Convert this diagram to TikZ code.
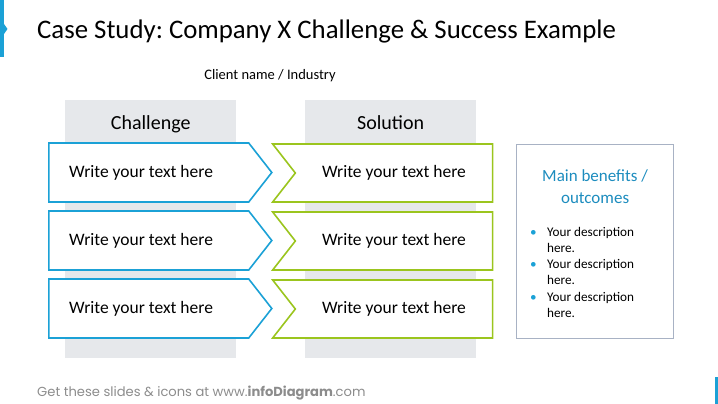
\documentclass[tikz,border=0pt]{standalone}
\usepackage{fontspec}
\setmainfont{Carlito}
\newfontfamily\footfont{Poppins}
\usetikzlibrary{positioning, shapes.symbols}
\definecolor{info_blue}{RGB}{27,161,214}
\definecolor{lime_green}{RGB}{155,197,30}
\definecolor{light_gray}{RGB}{230,232,235}
\definecolor{frame_gray}{RGB}{168,178,196}
\definecolor{foot_gray}{RGB}{140,140,140}
\definecolor{head_blue}{RGB}{28,140,190}

\newcommand{\dotitem}{\makebox[17pt][l]{\textcolor{info_blue}{\textbullet}}}

\tikzset{
	column/.style={fill=light_gray, minimum width=171pt, minimum height=258pt, inner sep=0pt, anchor=north west},
	challenge/.style={draw=info_blue, fill=white, line width=1.6pt, signal, signal to=east, signal pointer angle=104,
		minimum width=223pt, minimum height=59pt, inner sep=0pt},
	solution/.style={draw=lime_green, fill=white, line width=1.6pt, signal, signal from=west, signal to=nowhere, signal pointer angle=104,
		minimum width=220pt, minimum height=58pt, inner sep=0pt},
	boxtext/.style={font=\fontsize{17.5}{21}\selectfont, inner sep=0pt}
}

\begin{document}
\frenchspacing
\begin{tikzpicture}[x=1pt, y=-1pt]
			\useasboundingbox (0,0) rectangle (718,404);
			% --- Begin Header ---
			\fill[info_blue] (0,0) rectangle (4,57);
			\fill[info_blue] (4,24) -- (7.5,29) -- (4,34) -- cycle;
			\fill[info_blue] (715,377) rectangle (718,404);
			\node [anchor=base west, inner sep=0pt, font=\fontsize{26.8}{32}\selectfont] (Title) at (37,39) {Case Study: Company X Challenge \& Success Example};
			\node [inner sep=0pt, font=\fontsize{14.5}{17}\selectfont] (Client) at (270,76) {Client name / Industry};
			% --- End Header ---

			% --- Begin Columns ---
			\node [column] (ChallengeCol) at (65,100) {};
			\node [column] (SolutionCol) at (305,100) {};
			\node [inner sep=0pt, font=\fontsize{20}{24}\selectfont, below=15pt of ChallengeCol.north] (ChallengeHead) {Challenge};
			\node [inner sep=0pt, font=\fontsize{20}{24}\selectfont, below=15pt of SolutionCol.north] (SolutionHead) {Solution};
			% --- End Columns ---

			% --- Begin Rows ---
			\node [challenge, anchor=west] (Challenge1) at (48,172.5) {};
			\node [challenge, below=7.4pt of Challenge1] (Challenge2) {};
			\node [challenge, below=7.4pt of Challenge2] (Challenge3) {};
			\node [solution] (Solution1) at (394,173) {};
			\node [solution, below=8.4pt of Solution1] (Solution2) {};
			\node [solution, below=8.4pt of Solution2] (Solution3) {};

			\node [boxtext, right=21pt of Challenge1.west] (challenge_text1) {Write your text here};
			\node [boxtext, right=21pt of Challenge2.west] (challenge_text2) {Write your text here};
			\node [boxtext, right=21pt of Challenge3.west] (challenge_text3) {Write your text here};
			\node [boxtext] (solution_text1) at (Solution1.center) {Write your text here};
			\node [boxtext] (solution_text2) at (Solution2.center) {Write your text here};
			\node [boxtext] (solution_text3) at (Solution3.center) {Write your text here};
			% --- End Rows ---

			% --- Begin Benefits Node ---
			\node [draw=frame_gray, line width=1.2pt, minimum width=157pt, minimum height=194pt, inner sep=0pt, anchor=north west] (Benefits) at (516,144) {};
			\node [text=head_blue, align=center, inner sep=0pt, font=\fontsize{17}{22}\selectfont, below=25pt of Benefits.north] (benefits_title) {Main benefits /\\outcomes};
			\node [anchor=north west, align=left, inner sep=0pt, font=\fontsize{13.2}{16.2}\selectfont] (benefits_list) at (530,227) {
				\dotitem Your description \\
				\hspace*{17pt}here. \\
				\dotitem Your description \\
				\hspace*{17pt}here. \\
				\dotitem Your description \\
				\hspace*{17pt}here.
			};
			% --- End Benefits Node ---

			\node [anchor=base west, inner sep=0pt, text=foot_gray, font=\footfont\fontsize{13.1}{15}\selectfont] (Footer) at (37,396) {Get these slides \& icons at www.\textbf{infoDiagram}.com};
		\end{tikzpicture}
\end{document}
